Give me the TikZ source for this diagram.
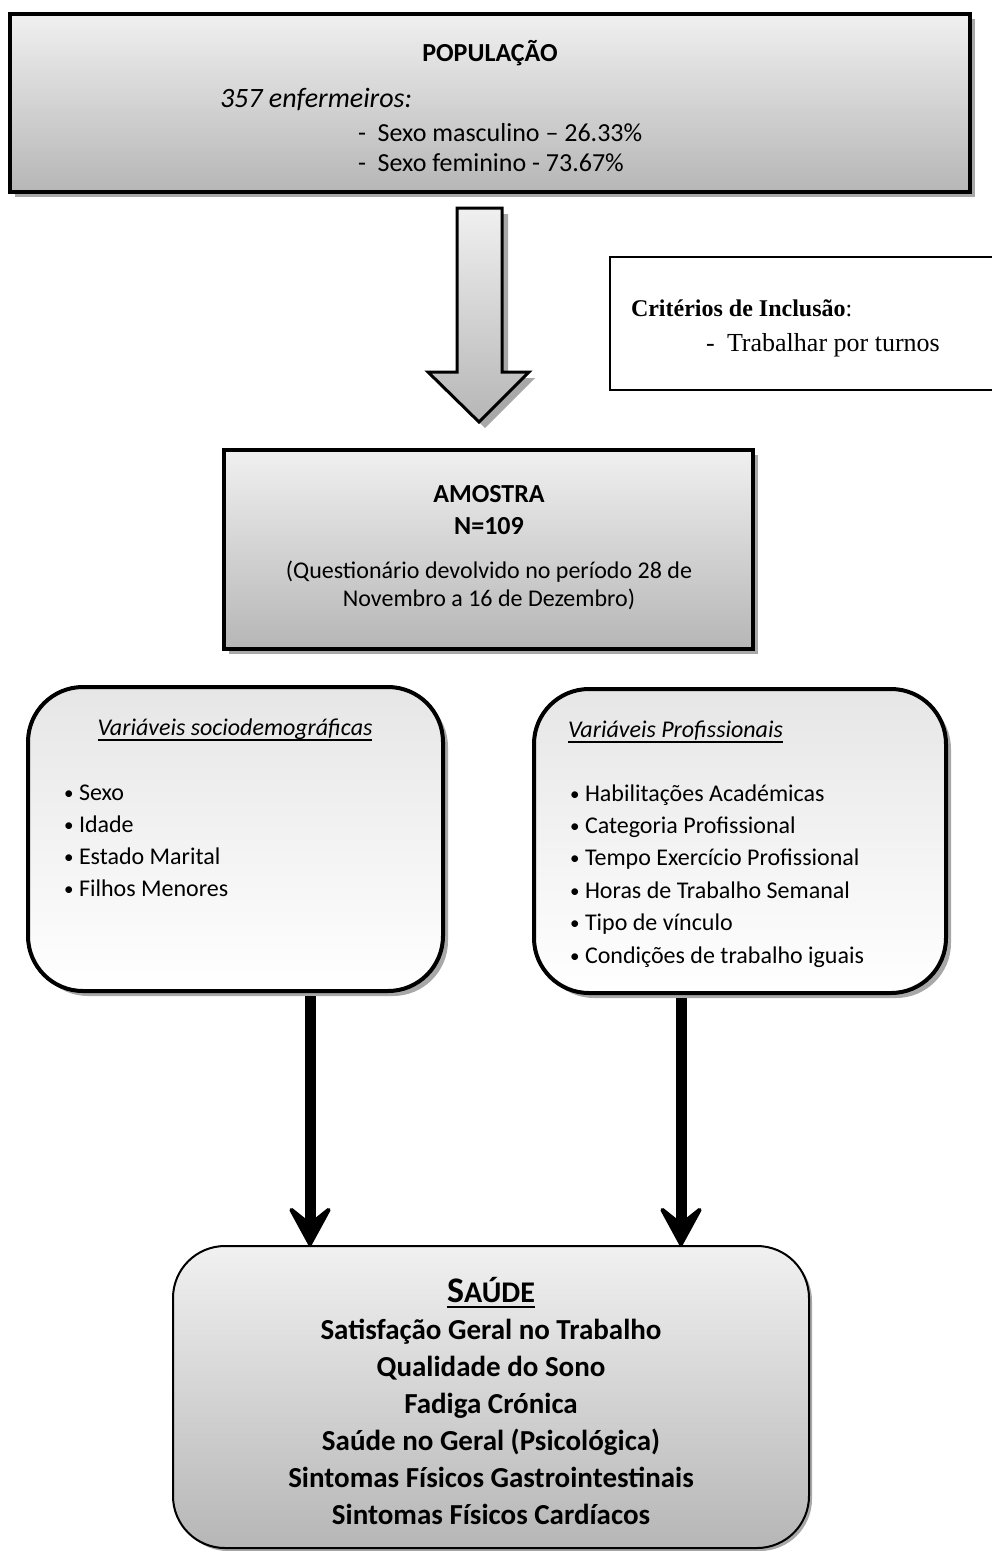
\documentclass[tikz,border=0pt]{standalone}
\usepackage{fontspec}
\setmainfont{Carlito}
\newfontfamily\tnr{Liberation Serif}
\usetikzlibrary{arrows.meta,shadows}
\definecolor{gtop}{HTML}{F0F0F0}
\definecolor{gbot}{HTML}{B6B6B6}
\definecolor{shd}{HTML}{A8A8A8}
\definecolor{wtop}{HTML}{E6E6E6}
\newcommand{\blt}{\makebox[15pt][l]{\raisebox{1pt}{\fontsize{19}{19}\selectfont •}}}
\begin{document}
\begin{tikzpicture}[x=1pt,y=-1pt,
  sqbox/.style={draw=black, line width=4pt, top color=gtop, bottom color=gbot,
    inner sep=0pt, outer sep=0pt, anchor=north west,
    drop shadow={shadow xshift=5pt, shadow yshift=-5pt, fill=shd, opacity=1}},
  rbox/.style={draw=black, line width=4pt, rounded corners=55pt, top color=wtop, bottom color=white,
    inner sep=0pt, outer sep=0pt, anchor=north west,
    drop shadow={shadow xshift=5pt, shadow yshift=-5pt, fill=shd, opacity=1}},
  sbox/.style={draw=black, line width=2pt, rounded corners=52pt, top color=gtop!95!white, bottom color=gbot,
    inner sep=0pt, outer sep=0pt, anchor=north west,
    drop shadow={shadow xshift=3pt, shadow yshift=-3pt, fill=shd, opacity=1}},
  critbox/.style={draw=black, line width=1.8pt, fill=white, inner sep=0pt, outer sep=0pt, anchor=north west},
  txt/.style={inner sep=0pt, outer sep=0pt, anchor=base},
  txtl/.style={inner sep=0pt, outer sep=0pt, anchor=base west},
  poptxt/.style={font=\fontsize{26}{31}\selectfont},
  item/.style={txtl, font=\fontsize{24}{29}\selectfont},
  saudetxt/.style={txt, font=\bfseries\fontsize{29}{35}\selectfont},
  ul/.style={line width=1.6pt},
  conn/.style={line width=11pt, shorten <=5pt,
    -{Stealth[length=46pt, width=50pt, inset=20pt, line width=4pt, round]}}
]
\useasboundingbox (0,0) rectangle (992,1551);

% POPULACAO
\node[sqbox, minimum width=960pt, minimum height=178pt] (pop) at (10,14) {};
\node[txt, font=\bfseries\fontsize{26}{31}\selectfont] (popt) at (490,61) {POPULAÇÃO};
\node[txtl, font=\itshape\fontsize{28}{34}\selectfont] (popn) at (220,107) {357 enfermeiros:};
\node[txtl, poptxt] (popm) at (358,141) {-\ \ Sexo masculino – 26.33\%};
\node[txtl, poptxt] (popf) at (358,171) {-\ \ Sexo feminino - 73.67\%};

% big block arrow
\fill[shd, shift={(6,6)}] (457,208) -- (502,208) -- (502,372) -- (529,372) -- (479,422) -- (428,372) -- (457,372) -- cycle;
\draw[line width=3pt, line join=miter, top color=gtop, bottom color=gbot]
  (457,208) -- (502,208) -- (502,372) -- (529,372) -- (479,422) -- (428,372) -- (457,372) -- cycle;

% criteria
\node[critbox, minimum width=420pt, minimum height=133pt] (crit) at (610,257) {};
\node[txtl, font=\tnr\fontsize{24}{29}\selectfont] (crit1) at (631,316) {\textbf{Critérios de Inclusão}:};
\node[txtl, font=\tnr\fontsize{26}{31}\selectfont] (crit2) at (706,351) {-};
\node[txtl, font=\tnr\fontsize{26}{31}\selectfont] (crit3) at (727,351) {Trabalhar por turnos};

% AMOSTRA
\node[sqbox, minimum width=529pt, minimum height=199pt] (amo) at (224,450) {};
\node[txt, font=\bfseries\fontsize{26}{31}\selectfont] (amo1) at (489,502) {AMOSTRA};
\node[txt, font=\bfseries\fontsize{26}{31}\selectfont] (amo2) at (489,534) {N=109};
\node[txt, font=\fontsize{24}{29}\selectfont] (amo3) at (489,578) {(Questionário devolvido no período 28 de};
\node[txt, font=\fontsize{24}{29}\selectfont] (amo4) at (489,606) {Novembro a 16 de Dezembro)};

% sociodemographic
\node[rbox, minimum width=415pt, minimum height=304pt] (sd) at (28,687) {};
\node[txt, font=\itshape\fontsize{24}{29}\selectfont] (sdt) at (235,735) {Variáveis sociodemográficas};
\draw[ul] ([yshift=-5pt]sdt.base west) -- ([yshift=-5pt]sdt.base east);
\foreach \t [count=\i from 0] in {Sexo, Idade, Estado Marital, Filhos Menores}
  \node[item] (sdi\i) at (64,{800+32*\i}) {\blt\t};

% professional
\node[rbox, minimum width=412pt, minimum height=304pt] (prof) at (534,689) {};
\node[txtl, font=\itshape\fontsize{24}{29}\selectfont] (proft) at (568,737) {Variáveis Profissionais};
\draw[ul] ([yshift=-5pt]proft.base west) -- ([yshift=-5pt]proft.base east);
\foreach \t [count=\i from 0] in {Habilitações Académicas, Categoria Profissional,
   Tempo Exercício Profissional, Horas de Trabalho Semanal, Tipo de vínculo,
   Condições de trabalho iguais}
  \node[item] (pri\i) at (570,{801+32.4*\i}) {\blt\t};

% SAUDE
\node[sbox, minimum width=636pt, minimum height=302pt] (sau) at (173,1246) {};
\node[txt, font=\bfseries] (saut) at (491,1302) {{\fontsize{36}{40}\selectfont S}{\fontsize{30}{34}\selectfont AÚDE}};
\draw[line width=2.4pt] ([yshift=-5pt]saut.base west) -- ([yshift=-5pt]saut.base east);
\foreach \t [count=\i from 0] in {Satisfação Geral no Trabalho, Qualidade do Sono, Fadiga Crónica,
   Saúde no Geral (Psicológica), Sintomas Físicos Gastrointestinais, Sintomas Físicos Cardíacos}
  \node[saudetxt] (sl\i) at (491,{1339+37*\i}) {\t};

% connectors
\coordinate (cx1) at (310,0);
\coordinate (cx2) at (681,0);
\draw[conn] (sd.south -| cx1) -- (sau.north -| cx1);
\draw[conn] (prof.south -| cx2) -- (sau.north -| cx2);
\end{tikzpicture}
\end{document}
